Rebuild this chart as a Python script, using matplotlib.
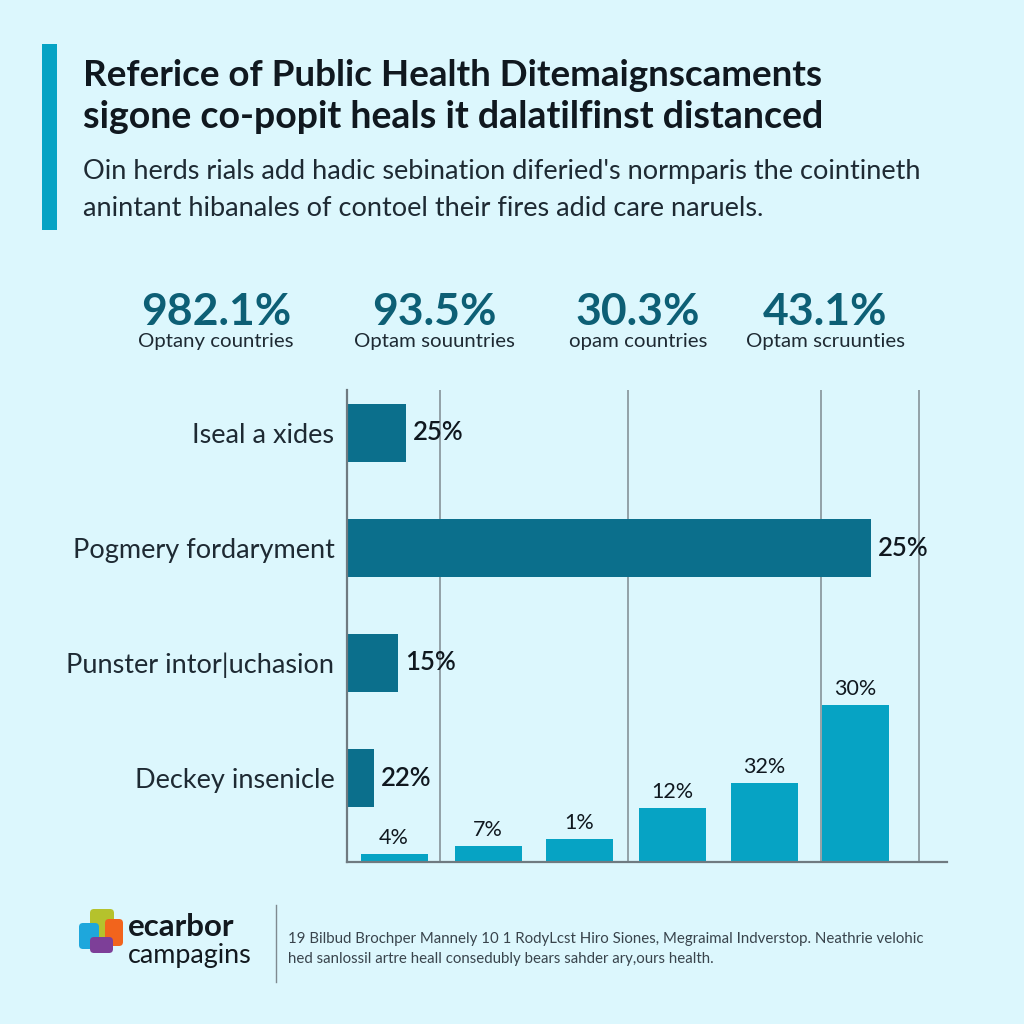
import matplotlib
matplotlib.use('Agg')
import matplotlib.pyplot as plt
from matplotlib.patches import FancyBboxPatch, Rectangle

plt.rcParams['font.family'] = ['Lato', 'DejaVu Sans']

# texts
title_lines = ["Referice of Public Health Ditemaignscaments",
               "sigone co-popit heals it dalatilfinst distanced"]
sub_lines = ["Oin herds rials add hadic sebination diferied's normparis the cointineth",
             "anintant hibanales of contoel their fires adid care naruels."]
stat_values = ["982.1%", "93.5%", "30.3%", "43.1%"]
stat_labels = ["Optany countries", "Optam souuntries", "opam countries", "Optam scruunties"]
foot_lines = ["19 Bilbud Brochper Mannely 10 1 RodyLcst Hiro Siones, Megraimal Indverstop. Neathrie velohic",
              "hed sanlossil artre heall consedubly bears sahder ary,ours health."]

# horizontal bars (length, labels as printed)
h_cats = ["Iseal a xides", "Pogmery fordaryment", "Punster intor|uchasion", "Deckey insenicle"]
h_lengths = [59, 524, 51, 27]
h_labels = ["25%", "25%", "15%", "22%"]

# vertical bars
v_pos = [47, 141, 232, 325, 417, 508]
v_heights = [8, 16, 23, 54, 79, 157]
v_labels = ["4%", "7%", "1%", "12%", "32%", "30%"]

grid_x = [93, 281, 474, 572]

BG = '#dcf7fd'
DARK = '#0b6f8c'
LIGHT = '#06a3c4'
TXT = '#10181f'

fig = plt.figure(figsize=(10.24, 10.24), dpi=100, facecolor=BG)

# page layer in pixel coords
page = fig.add_axes([0, 0, 1, 1])
page.set_xlim(0, 1024)
page.set_ylim(1024, 0)
page.axis('off')

page.add_patch(Rectangle((42, 44), 15, 186, color=LIGHT, lw=0))
for y, s, fs in zip([75, 117], title_lines, [26.5, 27]):
    page.text(83, y, s, fontsize=fs, fontweight='bold', color=TXT, va='center')
for y, s in zip([172, 208], sub_lines):
    page.text(83, y, s, fontsize=19.5, color='#1e2a33', va='center')

for x, v, l in zip([216, 434, 638, 825], stat_values, stat_labels):
    page.text(x, 312, v, fontsize=32, fontweight='bold', color='#0d5f75', ha='center', va='center')
    page.text(x, 342, l, fontsize=14.7, color='#1e2a33', ha='center', va='center')

# logo
logo = [(90, 909, 24, 28, '#b5c22c'), (105, 919, 18, 27, '#f2641c'),
        (79, 923, 20, 26, '#1ea7dc'), (90, 937, 23, 16, '#7d3f98')]
for x, y, w, h, c in logo:
    page.add_patch(FancyBboxPatch((x + 4, y + 4), w - 8, h - 8, boxstyle='round,pad=4',
                                  fc=c, ec='none'))
page.text(128, 927, "ecarbor", fontsize=22.5, fontweight='bold', color='#12191f', va='center')
page.text(128, 956, "campagins", fontsize=19.4, color='#12191f', va='center')
page.plot([276, 276], [905, 982], color='#7f8a90', lw=1)
for y, s in zip([939, 959], foot_lines):
    page.text(288, y, s, fontsize=10.8, color='#39444c', va='center')

# chart
ax = fig.add_axes([347 / 1024, (1024 - 862) / 1024, 600 / 1024, 472 / 1024])
ax.patch.set_alpha(0)
ax.set_xlim(0, 600)
ax.set_ylim(0, 472)
for s in ['top', 'right']:
    ax.spines[s].set_visible(False)
for s in ['left', 'bottom']:
    ax.spines[s].set_color('#6f7a80')
    ax.spines[s].set_linewidth(1.6)
ax.vlines(grid_x, 0, 472, color='#7f8a90', lw=1.1, zorder=1)

h_y = [429, 314, 199, 84]
ax.barh(h_y, h_lengths, height=58, color=DARK, zorder=2)
for y, ln, lab in zip(h_y, h_lengths, h_labels):
    ax.text(ln + 7, y, lab, fontsize=18.5, fontweight='semibold', color=TXT, va='center', zorder=3)

ax.bar(v_pos, v_heights, width=67, color=LIGHT, zorder=2)
for x, h, lab in zip(v_pos, v_heights, v_labels):
    ax.text(x, h + 6, lab, fontsize=15.5, color=TXT, ha='center', va='bottom', zorder=3)

ax.set_yticks(h_y)
ax.set_yticklabels(h_cats, fontsize=19.5, color='#1e2a33')
ax.tick_params(axis='y', length=0, pad=9)
ax.set_xticks([])

fig.savefig('out.png', dpi=100, facecolor=BG)
